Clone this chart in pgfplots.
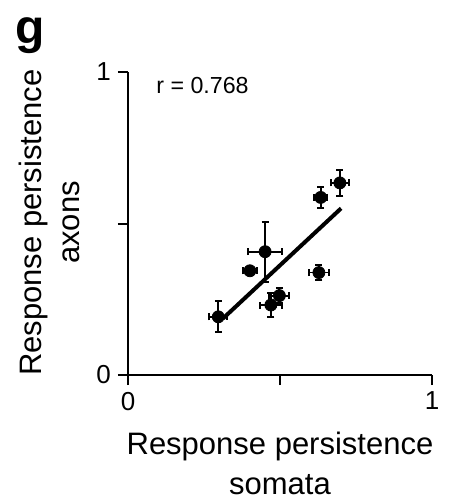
\documentclass[border=0pt]{standalone}
\usepackage{pgfplots}
\pgfplotsset{compat=1.18}
\usepackage{fontspec}
\setmainfont{Liberation Sans}
\begin{document}
\begin{tikzpicture}
  \useasboundingbox (-64pt,-62.5pt) rectangle (162pt,187.5pt);
  \begin{axis}[
      at={(0,0)}, anchor=origin,
      scale only axis,
      width=152pt, height=151.5pt,
      xmin=0, xmax=1, ymin=0, ymax=1,
      axis x line=bottom, axis y line=left,
      axis line style={-, line width=1pt},
      xtick={0,0.5,1}, xticklabels={0,,1},
      ytick={0,0.5,1}, yticklabels={0,,1},
      tick align=outside, major tick length=5pt,
      tick style={line width=1pt, black},
      /pgf/number format/assume math mode=true,
      ticklabel style={font=\fontsize{13}{15}\selectfont},
      xlabel={Response persistence\\somata},
      ylabel={Response persistence\\axons},
      xlabel style={at={(axis description cs:0.5,-0.292)}, anchor=center, align=center,
        inner sep=1pt, font=\fontsize{15.5}{20}\selectfont},
      ylabel style={at={(axis description cs:-0.259,0.503)}, anchor=center, align=center,
        font=\fontsize{15.5}{19}\selectfont},
      clip=false,
    ]
    % fitted line
    \addplot[black, line width=2pt] coordinates {(0.313,0.187) (0.701,0.550)};
    % axon vs somata persistence, mean +- sem
    \addplot[black, only marks, mark=*, mark size=3pt,
      error bars/.cd, x dir=both, x explicit, y dir=both, y explicit,
      error bar style={line width=0.9pt},
      error mark options={rotate=90, mark size=1.75pt, line width=1pt}]
      coordinates {
        (0.697,0.634) +- (0.029,0.044)
        (0.634,0.586) +- (0.022,0.036)
        (0.451,0.407) +- (0.055,0.099)
        (0.401,0.344) +- (0.023,0.010)
        (0.628,0.338) +- (0.033,0.026)
        (0.498,0.262) +- (0.033,0.026)
        (0.470,0.231) +- (0.035,0.038)
        (0.297,0.192) +- (0.029,0.051)
      };
    \node[anchor=base west, inner sep=0pt, font=\fontsize{11.6}{14}\selectfont] at (axis cs:0.092,0.930) {r = 0.768};
    \node[anchor=center, inner sep=0pt, font=\fontsize{24}{26}\selectfont\bfseries] at (axis description cs:-0.321,1.120) {g};
  \end{axis}
\end{tikzpicture}
\end{document}
